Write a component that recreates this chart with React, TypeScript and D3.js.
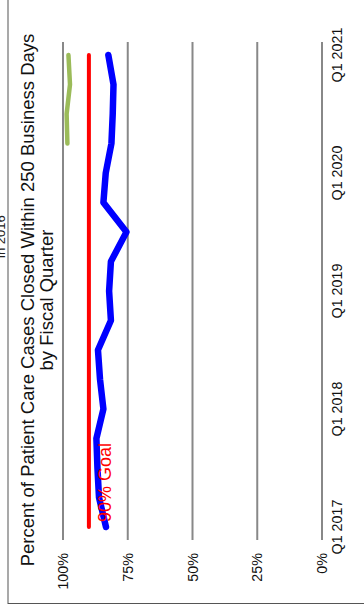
import React from "react";
import * as d3 from "d3";

// Fiscal quarters, Q1 2017 through Q1 2021
const quarters = [
  "Q1 2017", "Q2 2017", "Q3 2017", "Q4 2017",
  "Q1 2018", "Q2 2018", "Q3 2018", "Q4 2018",
  "Q1 2019", "Q2 2019", "Q3 2019", "Q4 2019",
  "Q1 2020", "Q2 2020", "Q3 2020", "Q4 2020",
  "Q1 2021",
];

// Percent of cases closed within 250 business days
const closedPct = [
  83.4, 86.1, 86.7, 87.1,
  84.4, 85.7, 86.5, 81.5,
  82.2, 81.5, 75.5, 84.4,
  83.5, 81.3, 80.8, 80.5,
  82.5,
];

// Second series, reported from Q2 2020 onward
const recentQuarters = ["Q2 2020", "Q3 2020", "Q4 2020", "Q1 2021"];
const recentPct = [98.3, 98.6, 97.3, 97.9];

const goalPct = 90;
const yTicks = [100, 75, 50, 25, 0];
const xTickLabels = ["Q1 2017", "Q1 2018", "Q1 2019", "Q1 2020", "Q1 2021"];

const titleLines = [
  "Percent of Patient Care Cases Closed Within 250 Business Days",
  "by Fiscal Quarter",
];

const W = 364;
const H = 610;
// chart is laid out landscape, then turned a quarter turn
const CW = H; // 610
const CH = W; // 364
const FONT = "'Liberation Sans', Arial, Helvetica, sans-serif";

export default function App() {
  const x = d3
    .scalePoint<string>()
    .domain(quarters)
    .range([83, 555]);
  const y = d3.scaleLinear().domain([0, 100]).range([322, 63]);

  const line = d3
    .line<[string, number]>()
    .x((d) => x(d[0]) as number)
    .y((d) => y(d[1]));

  const mainData: [string, number][] = quarters.map((q, i) => [q, closedPct[i]]);
  const recentData: [string, number][] = recentQuarters.map((q, i) => [q, recentPct[i]]);
  const goalData: [string, number][] = [
    [quarters[0], goalPct],
    [quarters[quarters.length - 1], goalPct],
  ];

  const gridX0 = 70;
  const gridX1 = 568;

  return (
    <svg
      width={W}
      height={H}
      style={{ position: "absolute", left: 0, top: 0 }}
      fontFamily={FONT}
    >
      <rect width={W} height={H} fill="#ffffff" />
      <g transform={`translate(0,${H}) rotate(-90)`}>
        {/* outer frame */}
        <rect
          x={6.5}
          y={8}
          width={CW + 20}
          height={CH + 20}
          fill="none"
          stroke="#555"
          strokeWidth={1}
        />
        <text x={352} y={5} fontSize={13} fill="#222">
          in 2016
        </text>

        {/* title */}
        {titleLines.map((t, i) => (
          <text
            key={i}
            x={310}
            y={34 + i * 18.5}
            textAnchor="middle"
            fontSize={18.5}
            fill="#111"
          >
            {t}
          </text>
        ))}

        {/* horizontal gridlines */}
        {yTicks.map((t) => (
          <g key={t}>
            <line
              x1={gridX0}
              x2={gridX1}
              y1={y(t)}
              y2={y(t)}
              stroke="#888"
              strokeWidth={2}
            />
            <text
              x={57}
              y={y(t)}
              dy="0.35em"
              textAnchor="end"
              fontSize={14.3}
              fill="#111"
            >
              {t}%
            </text>
          </g>
        ))}

        {/* quarter labels */}
        {xTickLabels.map((q) => (
          <text
            key={q}
            x={x(q) as number}
            y={337}
            dy="0.35em"
            textAnchor="middle"
            fontSize={14.3}
            fill="#111"
          >
            {q}
          </text>
        ))}

        {/* goal line */}
        <path
          d={line(goalData) || ""}
          fill="none"
          stroke="#ff0000"
          strokeWidth={4}
          strokeLinecap="round"
        />

        {/* recent series */}
        <path
          d={line(recentData) || ""}
          fill="none"
          stroke="#9bbb59"
          strokeWidth={4.5}
          strokeLinecap="round"
          strokeLinejoin="round"
        />

        {/* closed within 250 days */}
        <path
          d={line(mainData) || ""}
          fill="none"
          stroke="#0000ff"
          strokeWidth={6.5}
          strokeLinecap="round"
          strokeLinejoin="round"
        />

        <text
          x={(x(quarters[0]) as number) + 5}
          y={111}
          fontSize={18}
          fill="#ff0000"
        >
          {`${goalPct}% Goal`}
        </text>
      </g>
    </svg>
  );
}
